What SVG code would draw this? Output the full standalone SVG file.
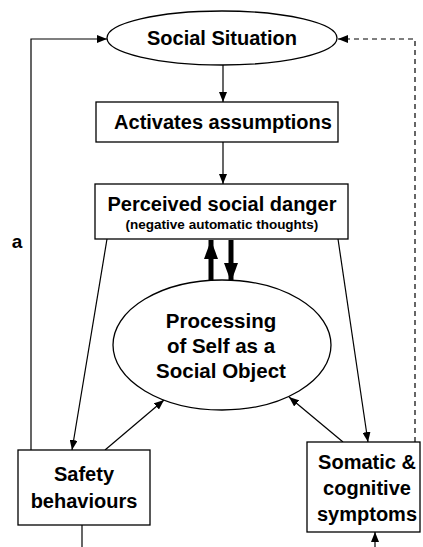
<svg xmlns="http://www.w3.org/2000/svg" width="423" height="547" viewBox="0 0 423 547">
<style>
.n{fill:#fff;stroke:#000;stroke-width:1.3}
.t{font-family:"Liberation Sans",Arial,sans-serif;font-weight:bold;text-anchor:middle;fill:#000}
.c{fill:none;stroke:#000;stroke-width:1.2}
.k{fill:none;stroke:#000;stroke-width:5}
</style>
<defs>
<marker id="ah" markerWidth="10" markerHeight="8" refX="10" refY="4" orient="auto" markerUnits="userSpaceOnUse"><path d="M0,0L10,4L0,8z" fill="#000"/></marker>
<marker id="big" markerWidth="19" markerHeight="14" refX="19" refY="7" orient="auto" markerUnits="userSpaceOnUse"><path d="M0,0L19,7L0,14z" fill="#000"/></marker>
</defs>
<g id="connectors">
<path class="c" d="M31,450V39H107" marker-end="url(#ah)"/>
<path class="c" d="M415,442V39H338" stroke-dasharray="5,4" marker-end="url(#ah)"/>
<path class="c" d="M223,65V102" marker-end="url(#ah)"/>
<path class="c" d="M223,142V184" marker-end="url(#ah)"/>
<path class="k" d="M211,281V240" marker-end="url(#big)"/>
<path class="k" d="M231,240V282" marker-end="url(#big)"/>
<path class="c" d="M107,239L72,450" marker-end="url(#ah)"/>
<path class="c" d="M338,239L368,442" marker-end="url(#ah)"/>
<path class="c" d="M105,450L164,400" marker-end="url(#ah)"/>
<path class="c" d="M343,442L289,397" marker-end="url(#ah)"/>
<path class="c" d="M82,525V547"/>
<path class="c" d="M375,547V532" marker-end="url(#ah)"/>
</g>
<g id="social-situation">
<ellipse class="n" cx="222" cy="38" rx="115" ry="27"/>
<text class="t" x="222" y="45" font-size="20">Social Situation</text>
</g>
<g id="activates">
<rect class="n" x="96" y="102" width="242" height="40"/>
<text class="t" x="223" y="129" font-size="20">Activates assumptions</text>
</g>
<g id="perceived">
<rect class="n" x="95" y="184" width="253" height="55"/>
<text class="t" x="222" y="211" font-size="20">Perceived social danger</text>
<text class="t" x="222" y="229" font-size="13.5">(negative automatic thoughts)</text>
</g>
<g id="processing">
<ellipse class="n" cx="222" cy="345" rx="109" ry="65"/>
<text class="t" x="221" y="328" font-size="20.5">Processing</text>
<text class="t" x="221" y="353" font-size="20.5">of Self as a</text>
<text class="t" x="221" y="378" font-size="20.5">Social Object</text>
</g>
<g id="safety">
<rect class="n" x="18" y="450" width="132" height="75"/>
<text class="t" x="84" y="481" font-size="20">Safety</text>
<text class="t" x="84" y="508" font-size="20">behaviours</text>
</g>
<g id="somatic">
<rect class="n" x="307" y="442" width="113" height="90"/>
<text class="t" x="367" y="469" font-size="20">Somatic &amp;</text>
<text class="t" x="367" y="495" font-size="20">cognitive</text>
<text class="t" x="367" y="521" font-size="20">symptoms</text>
</g>
<text class="t" x="17" y="248" font-size="19">a</text>
</svg>
